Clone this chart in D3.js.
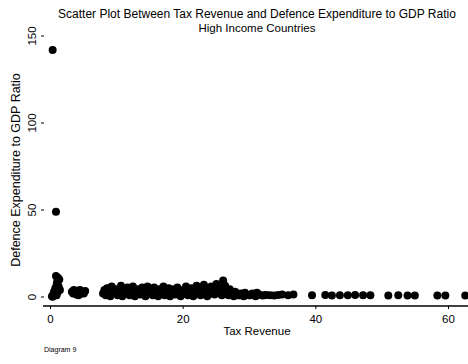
<!DOCTYPE html>
<html>
<head>
<meta charset="utf-8">
<script src="https://cdn.jsdelivr.net/npm/d3@7"></script>
<style>
  body { margin: 0; background: #fff; }
  text { font-family: "Liberation Sans", Arial, sans-serif; fill: #000; }
</style>
</head>
<body>
<script>
// tax revenue (x) and defence expenditure to GDP ratio (y)
const taxRevenue = [
  0.4, 0.9,
  0.3, 0.5, 0.6, 0.8, 1.0, 1.1, 1.2, 0.9, 1.4, 1.3, 0.7, 1.5, 0.4, 1.0, 1.2,
  3.3, 3.6, 3.9, 4.2, 4.5, 4.8, 5.1, 5.3, 4.0, 4.6, 3.5,
  8.0, 8.2, 8.4, 8.6, 8.9, 9.1, 9.3, 9.6, 9.9, 10.2,
  10.4, 10.7, 10.9, 11.2, 11.5, 11.7, 12.0, 12.3, 12.5, 12.8,
  13.0, 13.3, 13.6, 13.9, 14.1, 14.4, 14.7, 14.9, 15.2, 15.5,
  15.7, 16.0, 16.3, 16.5, 16.8, 17.1, 17.3, 17.6, 17.9, 18.1,
  18.4, 18.7, 18.9, 19.2, 19.5, 19.7, 20.0, 20.3, 20.5, 20.8,
  21.1, 21.3, 21.6, 21.9, 22.1, 22.4, 22.7, 22.9, 23.2, 23.5,
  23.7, 24.0, 24.3, 24.5, 24.8, 25.1, 25.3, 25.6, 25.9, 26.1,
  26.4, 26.7, 26.9, 27.1, 27.4, 27.7, 28.0, 28.4, 28.8, 29.2,
  29.6, 30.0, 30.5, 31.0, 31.5, 32.0, 32.6, 33.2, 33.8, 34.4,
  35.0, 35.9, 36.7, 39.5, 41.5, 42.5, 43.7, 44.9, 46.0, 47.2,
  48.3, 51.0, 52.5, 53.9, 55.0, 58.4, 59.6, 62.6,
  8.3, 8.8, 9.4, 10.0, 10.6, 11.1, 11.8, 12.4, 13.1, 13.7,
  14.3, 15.0, 15.6, 16.2, 16.9, 17.5, 18.2, 18.8, 19.4, 20.1,
  20.7, 21.4, 22.0, 22.6, 23.3, 23.9, 24.6, 25.2, 25.8, 26.5,
  27.2, 27.9, 28.6, 29.4, 30.2, 31.2, 32.3, 0.6, 1.1, 4.3
];
const defenceRatio = [
  142, 49,
  0.5, 1.5, 3, 5, 7, 9, 11, 12, 10, 6, 2, 4, 0.2, 1, 3,
  3, 4, 3.5, 2.5, 4, 3, 2, 3.5, 1.5, 1.8, 2,
  2, 4, 1, 5, 3, 0.5, 6, 2.5, 4.5, 1,
  3, 6.5, 0.5, 4, 2, 5.5, 1, 3.5, 6, 0.5,
  2.5, 4.5, 1.5, 5.5, 3, 0.5, 6, 2, 4, 1,
  5.5, 3, 0.5, 4.5, 2, 6, 1, 3.5, 5, 0.5,
  2.5, 4.5, 1.5, 5.5, 3, 0.5, 4, 2, 6, 1,
  3.5, 5, 0.5, 2.5, 6.5, 4, 1, 3, 7, 5,
  0.5, 2.5, 6, 4, 1.5, 7.5, 3.5, 5.5, 1, 9.5,
  6.5, 3, 1, 4.5, 2, 0.5, 2.5, 1, 2, 0.5,
  1.5, 1, 2, 0.5, 1.5, 0.8, 1.2, 1, 0.8, 1.2,
  1.5, 1, 1.5, 1, 1.2, 0.8, 1, 1, 1.2, 1,
  1, 0.8, 1, 0.8, 0.8, 0.8, 0.8, 0.8,
  3, 1.5, 3.5, 2.5, 1.5, 2.5, 3, 2, 3.5, 2,
  3, 2.5, 3.5, 1.5, 4, 2, 3, 2.5, 3.5, 2,
  3, 1.5, 4, 2, 3, 1.5, 3, 2.5, 4, 2,
  1.5, 3, 1, 2.5, 1, 2.5, 1, 1, 8, 1
];
const xTicks = [0, 20, 40, 60];
const yTicks = [0, 50, 100, 150];

const width = 468, height = 364;
const svg = d3.select('body')
  .append('svg')
  .attr('width', width)
  .attr('height', height);

const x = d3.scaleLinear().domain([0, 60]).range([50, 448]);
const y = d3.scaleLinear().domain([0, 150]).range([297, 36]);

/* titles */
svg.append('text')
  .attr('x', 257).attr('y', 18)
  .attr('text-anchor', 'middle')
  .attr('font-size', 12)
  .text('Scatter Plot Between Tax Revenue and Defence Expenditure to GDP Ratio');
svg.append('text')
  .attr('x', 257).attr('y', 31.5)
  .attr('text-anchor', 'middle')
  .attr('font-size', 11.5)
  .text('High Income Countries');

/* x axis */
const xAxis = svg.append('g')
  .attr('transform', 'translate(0,306)')
  .call(d3.axisBottom(x).tickValues(xTicks).tickSize(3).tickPadding(6).tickFormat(d3.format('d')));
xAxis.select('.domain').attr('d', 'M43,0H468').attr('stroke-width', 1.4);
xAxis.selectAll('text').attr('font-size', 11.5);

svg.append('text')
  .attr('x', 257).attr('y', 335)
  .attr('text-anchor', 'middle')
  .attr('font-size', 11.5)
  .text('Tax Revenue');

/* y axis - ticks and labels only */
const yAxis = svg.append('g')
  .attr('transform', 'translate(44,0)')
  .call(d3.axisLeft(y).tickValues(yTicks).tickSize(3).tickPadding(4));
yAxis.select('.domain').remove();
yAxis.selectAll('.tick').attr('transform', null);
yAxis.selectAll('.tick line').attr('transform', d => `translate(0,${y(d)})`);
yAxis.selectAll('text')
  .attr('font-size', 11.5)
  .attr('text-anchor', 'middle')
  .attr('x', 0).attr('y', 0).attr('dy', 0)
  .attr('transform', d => `translate(-8,${y(d)}) rotate(-90)`);

svg.append('text')
  .attr('transform', 'translate(20,170) rotate(-90)')
  .attr('text-anchor', 'middle')
  .attr('font-size', 12.5)
  .text('Defence Expenditure to GDP Ratio');

/* points */
svg.append('g')
  .selectAll('circle')
  .data(taxRevenue)
  .enter()
  .append('circle')
  .attr('cx', d => x(d))
  .attr('cy', (d, i) => y(defenceRatio[i]))
  .attr('r', 4)
  .attr('fill', '#000');

/* caption */
svg.append('text')
  .attr('x', 44).attr('y', 352)
  .attr('font-size', 7)
  .attr('fill', '#333')
  .text('Diagram 9');
</script>
</body>
</html>
